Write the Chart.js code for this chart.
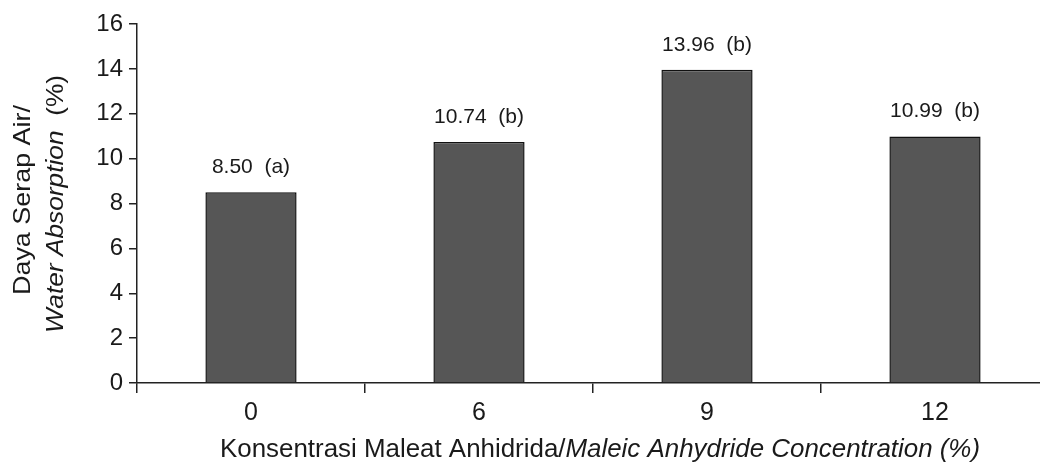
<!DOCTYPE html>
<html>
<head>
<meta charset="utf-8">
<script src="https://cdn.jsdelivr.net/npm/chart.js@4.4.0/dist/chart.umd.min.js"></script>
<style>
  html, body { margin: 0; padding: 0; background: #fff; overflow: hidden; }
  #wrap { width: 1060px; height: 468px; position: relative; }
</style>
</head>
<body>
<div id="wrap"><canvas id="absorptionChart" width="1060" height="468"></canvas></div>
<script>
// WATER ABSORPTION BAR CHART
const categories = ['0', '6', '9', '12'];
const absorption = [8.50, 10.74, 13.96, 10.99];
const groupLetters = ['a', 'b', 'b', 'b'];
const yTicks = [0, 2, 4, 6, 8, 10, 12, 14, 16];

const FONT = '"Liberation Sans", Arial, sans-serif';
const INK = '#1a1a1a';

// labels above each bar, e.g. "8.50  (a)"
const barLabels = {
    id: 'barLabels',
    afterDatasetsDraw(chart) {
        const ctx = chart.ctx;
        const meta = chart.getDatasetMeta(0);
        ctx.save();
        ctx.fillStyle = INK;
        ctx.font = '21px ' + FONT;
        ctx.textAlign = 'center';
        ctx.textBaseline = 'alphabetic';
        meta.data.forEach(function(bar, i) {
            const txt = absorption[i].toFixed(2) + '  (' + groupLetters[i] + ')';
            ctx.fillText(txt, bar.x, bar.y - 19);
        });
        ctx.restore();
    }
};

// draws a run of [text, italic] parts, squeezed to a given width
function drawParts(ctx, parts, size, width) {
    let total = 0;
    parts.forEach(function(p) {
        ctx.font = (p[1] ? 'italic ' : '') + size + 'px ' + FONT;
        total += ctx.measureText(p[0]).width;
    });
    const sx = width / total;
    ctx.scale(sx, 1);
    let x = -total / 2;
    parts.forEach(function(p) {
        ctx.font = (p[1] ? 'italic ' : '') + size + 'px ' + FONT;
        ctx.fillText(p[0], x, 0);
        x += ctx.measureText(p[0]).width;
    });
}

const axisTitles = {
    id: 'axisTitles',
    afterDraw(chart) {
        const ctx = chart.ctx;
        ctx.save();
        ctx.fillStyle = INK;
        ctx.textAlign = 'left';
        ctx.textBaseline = 'middle';

        // x title
        ctx.save();
        ctx.translate(600, 450);
        drawParts(ctx, [['Konsentrasi Maleat Anhidrida/', false], ['Maleic Anhydride Concentration (%)', true]], 25, 760);
        ctx.restore();

        // y title, two lines
        ctx.save();
        ctx.translate(23, 200);
        ctx.rotate(-Math.PI / 2);
        drawParts(ctx, [['Daya Serap Air/', false]], 24, 190);
        ctx.restore();

        ctx.save();
        ctx.translate(56, 204);
        ctx.rotate(-Math.PI / 2);
        drawParts(ctx, [['Water Absorption', true], ['  (%)', false]], 24, 258);
        ctx.restore();

        ctx.restore();
    }
};

const ctxAbs = document.getElementById('absorptionChart').getContext('2d');
const absorptionChart = new Chart(ctxAbs, {
    type: 'bar',
    data: {
        labels: categories,
        datasets: [{
            data: absorption,
            backgroundColor: '#565656',
            borderColor: '#111',
            borderWidth: 1.5,
            barPercentage: 0.4,
            categoryPercentage: 1.0
        }]
    },
    options: {
        responsive: false,
        animation: false,
        layout: { padding: { top: 24, right: 11, left: 0, bottom: 0 } },
        scales: {
            y: {
                min: 0,
                max: 16,
                afterFit: function(scale) { scale.width = 137; },
                afterBuildTicks: function(scale) {
                    scale.ticks = yTicks.map(function(v) { return { value: v }; });
                },
                ticks: {
                    color: INK,
                    padding: 6,
                    font: { family: FONT, size: 24 }
                },
                grid: {
                    drawOnChartArea: false,
                    tickLength: 8,
                    color: '#222',
                    lineWidth: 1.5
                },
                border: { display: true, color: '#222', width: 1.5 }
            },
            x: {
                afterFit: function(scale) { scale.height = 85; },
                ticks: {
                    color: INK,
                    padding: 5,
                    font: { family: FONT, size: 25 }
                },
                grid: {
                    offset: true,
                    drawOnChartArea: false,
                    tickLength: 10,
                    color: '#222',
                    lineWidth: 1.5
                },
                border: { display: true, color: '#222', width: 1.5 }
            }
        },
        plugins: {
            legend: { display: false },
            tooltip: { enabled: false }
        }
    },
    plugins: [barLabels, axisTitles]
});
</script>
</body>
</html>
